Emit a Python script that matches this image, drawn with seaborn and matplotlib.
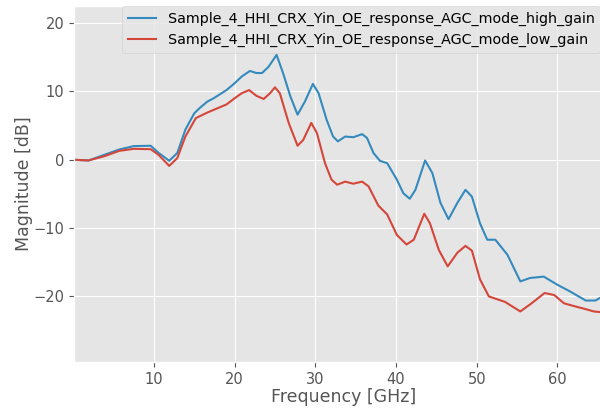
import matplotlib
matplotlib.use("Agg")
import matplotlib.pyplot as plt
import seaborn as sns
import pandas as pd

# Frequency response of the receiver in AGC mode (magnitude vs frequency)
freq_high = [0.1, 1.9, 3.8, 5.7, 7.5, 9.6, 10.6, 11.9, 12.9, 13.9, 15.0, 15.7,
             16.6, 17.4, 19.0, 20.0, 20.9, 21.9, 22.7, 23.4, 24.2, 25.2, 26.0,
             26.9, 27.8, 28.7, 29.7, 30.4, 31.4, 32.2, 32.8, 33.7, 34.7, 35.8,
             36.4, 37.2, 38.0, 38.9, 40.1, 40.9, 41.7, 42.4, 43.6, 44.5, 45.5,
             46.5, 47.6, 48.6, 49.4, 50.4, 51.3, 52.3, 53.8, 55.4, 56.6, 58.3,
             60.0, 61.6, 63.5, 64.7, 65.3, 67.0]
mag_high = [0.0, -0.1, 0.7, 1.5, 2.0, 2.05, 1.0, -0.15, 1.0, 4.4, 6.8, 7.6,
            8.5, 9.0, 10.2, 11.2, 12.2, 13.0, 12.7, 12.7, 13.6, 15.35, 12.7,
            9.3, 6.6, 8.5, 11.1, 9.75, 5.85, 3.4, 2.7, 3.4, 3.3, 3.75,
            3.2, 1.0, -0.15, -0.5, -2.9, -4.9, -5.7, -4.4, -0.1, -1.95, -6.3,
            -8.7, -6.3, -4.4, -5.4, -9.3, -11.7, -11.7, -13.9, -17.8, -17.3, -17.1,
            -18.3, -19.3, -20.6, -20.6, -20.2, -19.4]

freq_low = [0.1, 1.9, 3.8, 5.7, 7.5, 9.6, 10.6, 11.9, 12.9, 13.9, 15.2, 16.6,
            17.4, 19.0, 20.0, 20.9, 21.8, 22.7, 23.6, 24.4, 25.0, 25.6, 26.7,
            27.8, 28.5, 29.5, 30.2, 31.2, 32.0, 32.7, 33.7, 34.7, 35.8, 36.6,
            37.8, 38.9, 40.1, 41.3, 42.2, 43.5, 44.2, 45.3, 46.4, 47.6, 48.6,
            49.4, 50.4, 51.5, 53.5, 55.4, 56.8, 58.4, 59.6, 60.8, 62.0, 63.3,
            64.5, 65.3, 67.0]
mag_low = [0.0, -0.1, 0.5, 1.3, 1.6, 1.55, 0.7, -0.9, 0.25, 3.4, 6.1, 6.9,
           7.3, 8.1, 9.0, 9.75, 10.2, 9.36, 8.9, 9.75, 10.6, 9.75, 5.4,
           2.05, 2.9, 5.4, 3.9, -0.5, -2.9, -3.65, -3.2, -3.5, -3.2, -3.9,
           -6.7, -8.0, -11.0, -12.4, -11.7, -7.9, -9.3, -13.2, -15.6, -13.6, -12.6,
           -13.3, -17.5, -20.0, -20.8, -22.2, -21.0, -19.5, -19.8, -21.0, -21.4, -21.8,
           -22.2, -22.3, -22.4]

name_high = "Sample_4_HHI_CRX_Yin_OE_response_AGC_mode_high_gain"
name_low = "Sample_4_HHI_CRX_Yin_OE_response_AGC_mode_low_gain"

df = pd.concat([
    pd.DataFrame({"freq": freq_high, "mag": mag_high, "trace": name_high}),
    pd.DataFrame({"freq": freq_low, "mag": mag_low, "trace": name_low}),
], ignore_index=True)

plt.style.use("ggplot")
plt.rcParams["xtick.labelsize"] = 10.5
plt.rcParams["ytick.labelsize"] = 10.5
plt.rcParams["axes.labelsize"] = 12.5

fig = plt.figure(figsize=(6, 4.08), dpi=100)
ax = fig.add_axes([0.1233, 0.1127, 0.9, 0.8725])

sns.lineplot(data=df, x="freq", y="mag", hue="trace", estimator=None,
             sort=False, palette={name_high: "#348ABD", name_low: "#D5463A"},
             linewidth=1.5, ax=ax, solid_joinstyle="round")

ax.set_xlim(0.1, 67.0)
ax.set_ylim(-29.6, 22.5)
ax.set_yticks([-20, -10, 0, 10, 20])
ax.set_xticks([10, 20, 30, 40, 50, 60])
ax.set_xlabel("Frequency [GHz]", labelpad=1)
ax.set_ylabel("Magnitude [dB]", labelpad=0)

ax.legend(title=None, loc="upper left", bbox_to_anchor=(0.2033, 0.985),
          bbox_transform=fig.transFigure, borderaxespad=0, fontsize=10.3)

fig.savefig("out.png", dpi=100)
